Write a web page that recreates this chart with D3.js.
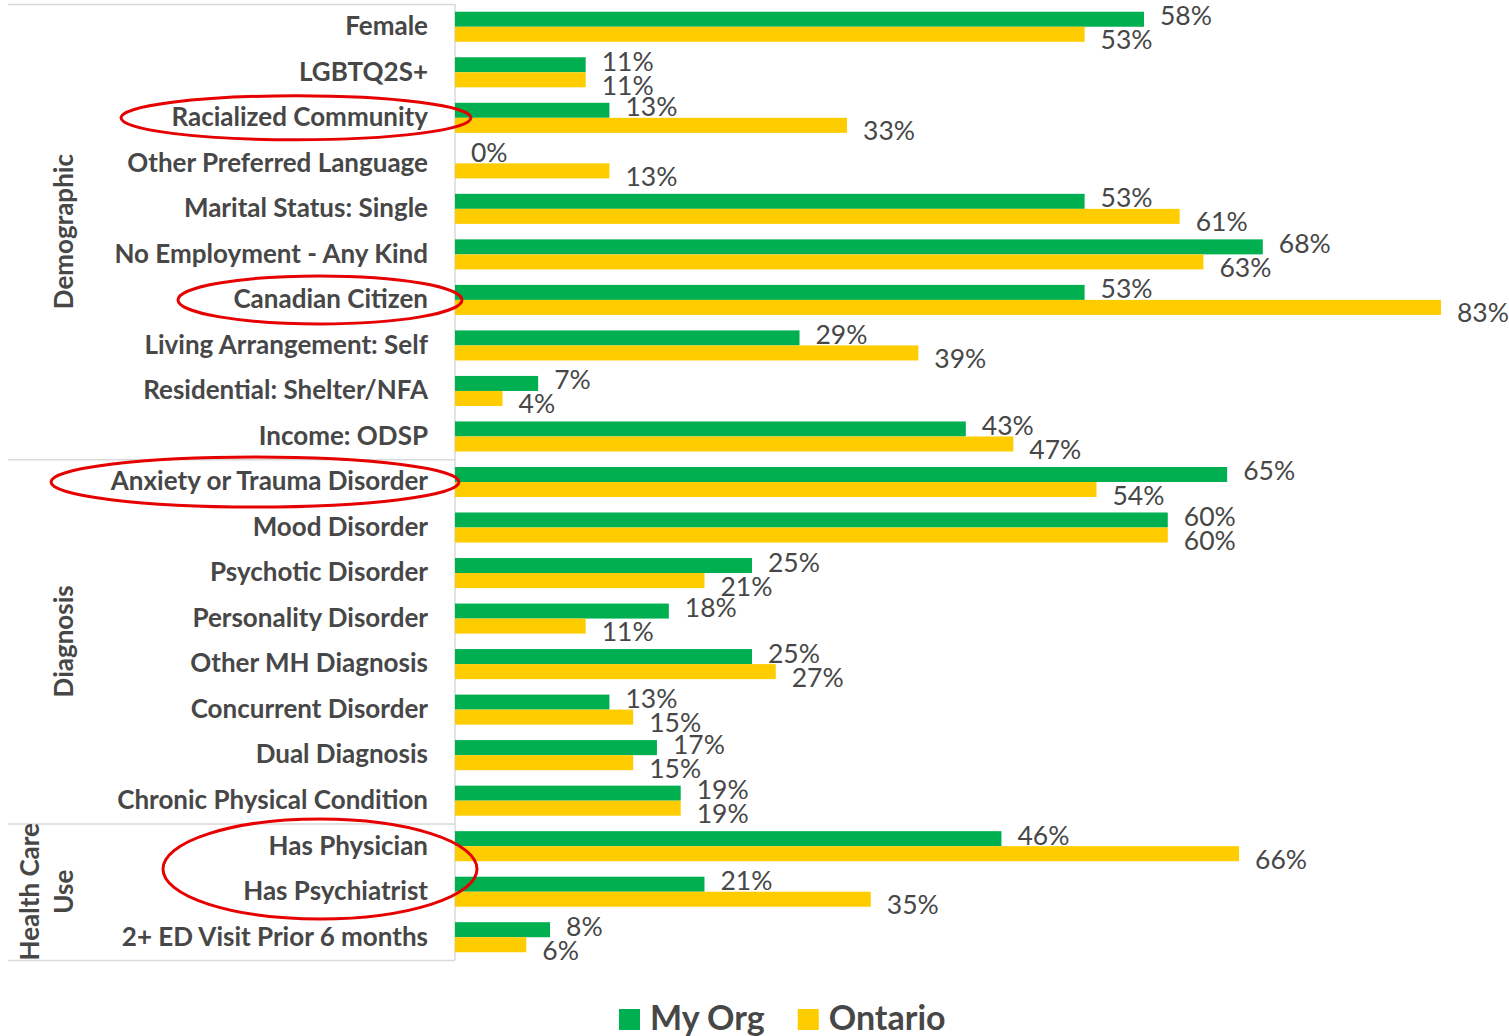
<!DOCTYPE html>
<html>
<head>
<meta charset="utf-8">
<script src="https://cdn.jsdelivr.net/npm/d3@7"></script>
<style>
  body { margin: 0; background: #fff; }
  svg text { font-family: Lato, "Noto Sans", sans-serif; fill: #474747; }
  .cat text { font-weight: bold; font-size: 26px; }
  .grp { font-weight: bold; font-size: 26px; }
  .val { font-size: 26.5px; }
  .legend text { font-weight: bold; font-size: 34px; }
</style>
</head>
<body>
<div id="chart"></div>
<script>
// categories, top to bottom
var categories = [
  "Female", "LGBTQ2S+", "Racialized Community", "Other Preferred Language",
  "Marital Status: Single", "No Employment - Any Kind", "Canadian Citizen",
  "Living Arrangement: Self", "Residential: Shelter/NFA", "Income: ODSP",
  "Anxiety or Trauma Disorder", "Mood Disorder", "Psychotic Disorder",
  "Personality Disorder", "Other MH Diagnosis", "Concurrent Disorder",
  "Dual Diagnosis", "Chronic Physical Condition",
  "Has Physician", "Has Psychiatrist", "2+ ED Visit Prior 6 months"
];
var groupOf = [
  "Demographic", "Demographic", "Demographic", "Demographic", "Demographic",
  "Demographic", "Demographic", "Demographic", "Demographic", "Demographic",
  "Diagnosis", "Diagnosis", "Diagnosis", "Diagnosis", "Diagnosis",
  "Diagnosis", "Diagnosis", "Diagnosis",
  "Health Care Use", "Health Care Use", "Health Care Use"
];
var groupLines = {
  "Demographic": ["Demographic"],
  "Diagnosis": ["Diagnosis"],
  "Health Care Use": ["Health Care", "Use"]
};
var seriesNames = ["My Org", "Ontario"];
var myOrg   = [58, 11, 13, 0, 53, 68, 53, 29, 7, 43, 65, 60, 25, 18, 25, 13, 17, 19, 46, 21, 8];
var ontario = [53, 11, 33, 13, 61, 63, 83, 39, 4, 47, 54, 60, 21, 11, 27, 15, 15, 19, 66, 35, 6];
// circled labels
var highlighted = [["Racialized Community"], ["Canadian Citizen"], ["Anxiety or Trauma Disorder"], ["Has Physician", "Has Psychiatrist"]];

var colors = { "My Org": "#00b050", "Ontario": "#ffcc00" };

var W = 1509, H = 1036;
var plotLeft = 455, plotTop = 4, plotBottom = 960;

var svg = d3.select("#chart").append("svg")
    .attr("width", W)
    .attr("height", H);

var x = d3.scaleLinear().domain([0, 83]).range([plotLeft, 1441]);
var y = d3.scaleBand().domain(categories).range([plotTop, plotBottom])
    .paddingInner(0.34).paddingOuter(0.17);
var ySub = d3.scaleBand().domain(seriesNames).range([0, y.bandwidth()]);
var gap = (y.step() - y.bandwidth()) / 2;

var rows = categories.map(function (c, i) {
    return { cat: c, values: [{ s: "My Org", v: myOrg[i] }, { s: "Ontario", v: ontario[i] }] };
});

// group separators
var groups = [];
groupOf.forEach(function (g, i) {
    if (!groups.length || groups[groups.length - 1].name !== g)
        groups.push({ name: g, first: categories[i], last: categories[i] });
    else groups[groups.length - 1].last = categories[i];
});
var sepYs = [plotTop];
groups.forEach(function (g) { sepYs.push(y(g.last) + y.bandwidth() + gap); });

svg.selectAll(".sep").data(sepYs).enter().append("line")
    .attr("x1", 8).attr("x2", plotLeft)
    .attr("y1", function (d) { return d + 0.5; })
    .attr("y2", function (d) { return d + 0.5; })
    .attr("stroke", "#d9d9d9").attr("stroke-width", 1.5);

// category axis
var yAxis = d3.axisLeft(y).tickSize(0).tickPadding(27);
var gY = svg.append("g").attr("class", "cat")
    .attr("transform", "translate(" + plotLeft + ",0)")
    .call(yAxis);
gY.select(".domain").attr("stroke", "#d9d9d9").attr("stroke-width", 1.5)
    .attr("d", "M0," + plotTop + "V" + plotBottom);

// group labels
groups.forEach(function (g) {
    var y0 = y(g.first) - gap, y1 = y(g.last) + y.bandwidth() + gap;
    var cy = (y0 + y1) / 2;
    var lines = groupLines[g.name];
    lines.forEach(function (l, k) {
        var cx = 63 - (lines.length - 1 - k) * 34;
        svg.append("text").attr("class", "grp")
            .attr("transform", "translate(" + cx + "," + cy + ") rotate(-90)")
            .attr("text-anchor", "middle")
            .attr("dominant-baseline", "central")
            .text(l);
    });
});

// bars
var rowG = svg.selectAll(".row").data(rows).enter().append("g")
    .attr("class", "row")
    .attr("transform", function (d) { return "translate(0," + y(d.cat) + ")"; });

rowG.selectAll("rect").data(function (d) { return d.values; }).enter().append("rect")
    .attr("x", x(0))
    .attr("y", function (d) { return ySub(d.s); })
    .attr("width", function (d) { return x(d.v) - x(0); })
    .attr("height", ySub.bandwidth())
    .attr("fill", function (d) { return colors[d.s]; });

// data labels, nudged apart so the two of a pair don't collide
rowG.selectAll("text.val").data(function (d) { return d.values; }).enter().append("text")
    .attr("class", "val")
    .attr("x", function (d) { return x(d.v) + 16; })
    .attr("y", function (d) { return ySub(d.s) + ySub.bandwidth() / 2 + (d.s === "My Org" ? -4 : 5); })
    .attr("dominant-baseline", "central")
    .text(function (d) { return d.v + "%"; });

// red ellipses around highlighted labels
var ellipseSize = [[296, 175, 22], [320, 142, 24], [255, 204, 25], [320, 157, 50]];
highlighted.forEach(function (cats, i) {
    var cy = d3.mean(cats, function (c) { return y(c) + y.bandwidth() / 2; });
    svg.append("ellipse")
        .attr("cx", ellipseSize[i][0]).attr("cy", cy)
        .attr("rx", ellipseSize[i][1]).attr("ry", ellipseSize[i][2])
        .attr("fill", "none").attr("stroke", "#e60000").attr("stroke-width", 3);
});

// legend
var legend = svg.append("g").attr("class", "legend")
    .attr("transform", "translate(619,1008)");
var lx = 0;
seriesNames.forEach(function (s) {
    legend.append("rect").attr("x", lx).attr("y", 1).attr("width", 21).attr("height", 21)
        .attr("fill", colors[s]);
    var t = legend.append("text").attr("x", lx + 31).attr("y", 22).text(s);
    lx += 31 + t.node().getComputedTextLength() + 33;
});
</script>
</body>
</html>
